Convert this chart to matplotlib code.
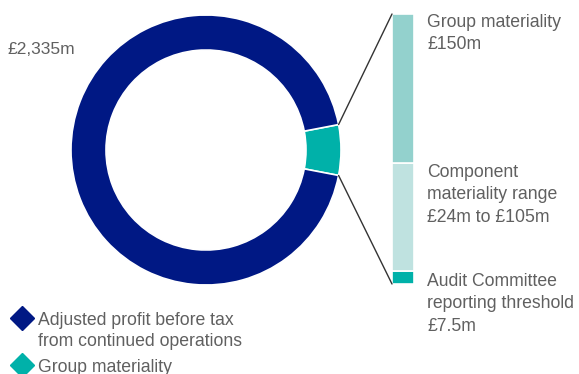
import matplotlib.pyplot as plt
from matplotlib.patches import ConnectionPatch
import numpy as np

plt.rcParams['font.family'] = ['Liberation Sans', 'DejaVu Sans']

# donut: adjusted profit vs group materiality (£m)
donut_labels = ['Group materiality', 'Adjusted profit before tax\nfrom continued operations']
donut_values = [150, 2335]
donut_colors = ['#00b1a9', '#001884']

# stacked bar, bottom to top (£m)
bar_labels = ['Audit Committee\nreporting threshold\n£7.5m',
              'Component\nmateriality range\n£24m to £105m',
              'Group materiality\n£150m']
bar_values = [7.5, 60, 82.5]
bar_colors = ['#00b1a9', '#bfe2e0', '#93d1cd']

text_color = '#606060'

fig = plt.figure(figsize=(5.79, 3.74), dpi=100)
ax = fig.add_axes([0, 0, 1, 1])

cx, cy, r_out, ring = 206, 150, 135, 35
teal_angle = 360 * donut_values[0] / sum(donut_values)
ax.pie(donut_values, colors=donut_colors, center=(cx, cy), radius=r_out,
       startangle=-teal_angle / 2, counterclock=True,
       wedgeprops=dict(width=ring, edgecolor='white', linewidth=1.2))
ax.set_xlim(0, 579)
ax.set_ylim(374, 0)
ax.set_aspect('auto')
ax.axis('off')

ax.text(7, 49, '£2,335m', fontsize=12.5, color=text_color, va='center', ha='left')

# bar on its own axes
bx0, bx1, by0, by1 = 392, 414, 14, 284
bax = fig.add_axes([bx0 / 579, 1 - by1 / 374, (bx1 - bx0) / 579, (by1 - by0) / 374])
bottom = 0
for v, c in zip(bar_values, bar_colors):
    bax.bar(0, v, bottom=bottom, width=1, color=c, edgecolor='white', linewidth=1.2)
    bottom += v
bax.set_xlim(-0.5, 0.5)
bax.set_ylim(0, sum(bar_values))
bax.axis('off')

# connector lines from the teal slice to the bar
half = np.radians(teal_angle / 2)
for sign, ybar in [(-1, sum(bar_values)), (1, 0)]:
    p = (cx + r_out * np.cos(half), cy + sign * r_out * np.sin(half))
    con = ConnectionPatch(xyA=p, coordsA=ax.transData, xyB=(-0.5, ybar), coordsB=bax.transData,
                          color='#333333', linewidth=1)
    fig.add_artist(con)

# bar labels
label_tops = [273, 164, 14]
for lab, yt in zip(bar_labels, label_tops):
    ax.text(427, yt, lab, fontsize=12.7, color=text_color, va='top', ha='left', linespacing=1.42)

# legend
leg_y = [318, 365]
leg_text_y = [312, 359]
for c, lab, ym, yt in zip(donut_colors[::-1], donut_labels[::-1], leg_y, leg_text_y):
    ax.plot(22, ym, marker='D', markersize=12, color=c, clip_on=False)
    ax.text(38, yt, lab, fontsize=12.7, color=text_color, va='top', ha='left', linespacing=1.3)

fig.savefig('out.png', dpi=100)
